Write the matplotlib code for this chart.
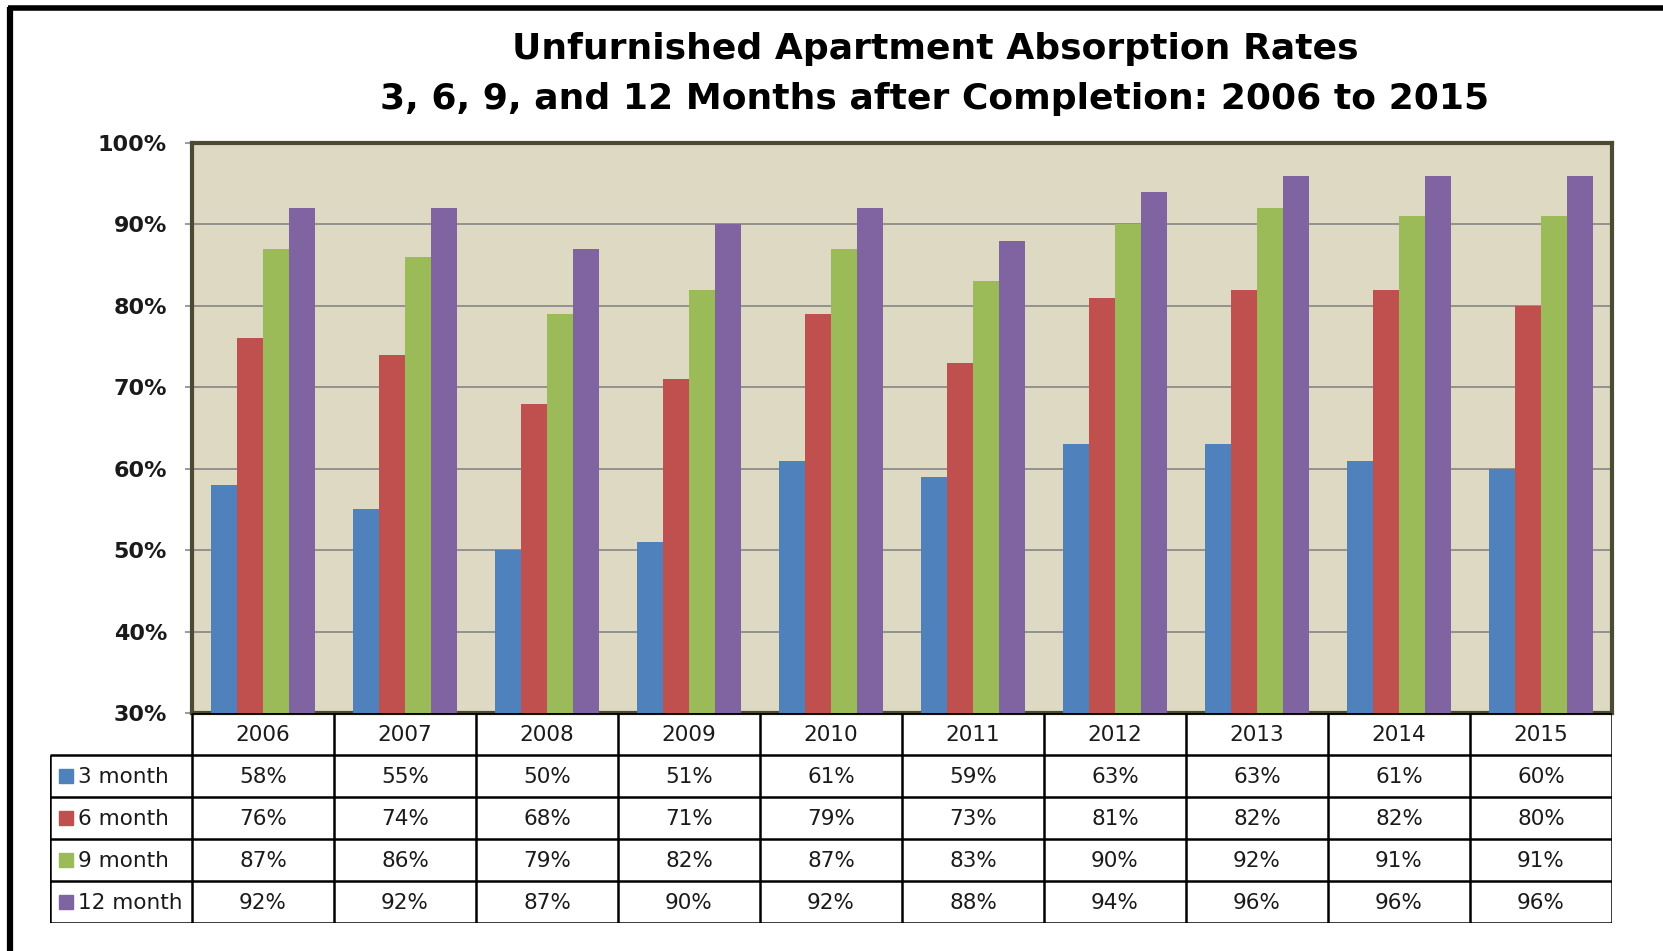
import numpy as np
import matplotlib
matplotlib.use("Agg")
import matplotlib.pyplot as plt
from matplotlib.lines import Line2D

# datos
anios = ['2006', '2007', '2008', '2009', '2010', '2011', '2012', '2013', '2014', '2015']
series = ['3 month', '6 month', '9 month', '12 month']
mes_3 = [58, 55, 50, 51, 61, 59, 63, 63, 61, 60]
mes_6 = [76, 74, 68, 71, 79, 73, 81, 82, 82, 80]
mes_9 = [87, 86, 79, 82, 87, 83, 90, 92, 91, 91]
mes_12 = [92, 92, 87, 90, 92, 88, 94, 96, 96, 96]
colores = ['#4F81BD', '#C0504D', '#9BBB59', '#8064A2']
valores = [mes_3, mes_6, mes_9, mes_12]

W, H = 1663, 951
fig = plt.figure(figsize=(W / 100, H / 100), dpi=100)
fig.patch.set_facecolor('white')

# borde negro arriba e izquierda
fig.add_artist(Line2D([10 / W, 10 / W], [0, 1 - 7 / H], color='black', lw=4.5,
                      transform=fig.transFigure, solid_capstyle='butt'))
fig.add_artist(Line2D([8 / W, 1], [1 - 7.5 / H, 1 - 7.5 / H], color='black', lw=4,
                      transform=fig.transFigure, solid_capstyle='butt'))

# titulo
fig.text(935 / W, 1 - 49 / H, 'Unfurnished Apartment Absorption Rates',
         ha='center', va='center', fontsize=26, fontweight='bold', family='DejaVu Sans')
fig.text(935 / W, 1 - 99 / H, '3, 6, 9, and 12 Months after Completion: 2006 to 2015',
         ha='center', va='center', fontsize=26, fontweight='bold', family='DejaVu Sans')

# grafico de barras
ax = fig.add_axes([192 / W, 1 - 713 / H, (1612 - 192) / W, (713 - 143) / H])
ax.set_facecolor('#DDD9C3')
x = np.arange(len(anios))
ancho = 0.183
for i, (vals, col) in enumerate(zip(valores, colores)):
    ax.bar(x + (i - 1.5) * ancho, vals, ancho, color=col, zorder=3)

ax.set_xlim(-0.5, len(anios) - 0.5)
ax.set_ylim(30, 100)
ax.set_yticks(np.arange(30, 101, 10))
ax.set_yticklabels([f'{v}%' for v in range(30, 101, 10)], fontsize=16,
                   fontweight='bold', family='DejaVu Sans', color='#1a1a1a')
ax.tick_params(axis='y', length=5, width=1.2, color='#8a8a8a', pad=13)
ax.set_xticks([])
ax.grid(axis='y', color='#8c8c8c', lw=1.3, zorder=1)
for s in ax.spines.values():
    s.set_color('#4D4A33')
    s.set_linewidth(3)

# tabla de datos debajo
tb = fig.add_axes([50 / W, 1 - 923 / H, (1612 - 50) / W, (923 - 713) / H])
tb.set_xlim(-1, len(anios))
tb.set_ylim(len(series) + 1, 0)
tb.axis('off')

lw = 1.8
tb.hlines(0, 0, len(anios), color='black', lw=lw)
for r in range(1, len(series) + 2):
    tb.hlines(r, -1, len(anios), color='black', lw=lw)
tb.vlines(-1, 1, len(series) + 1, color='black', lw=lw)
for c in range(len(anios) + 1):
    tb.vlines(c, 0, len(series) + 1, color='black', lw=lw)

fuente = dict(fontsize=15.5, family='DejaVu Sans', color='#1a1a1a')
for j, a in enumerate(anios):
    tb.text(j + 0.5, 0.53, a, ha='center', va='center', **fuente)
for i, (nombre, vals, col) in enumerate(zip(series, valores, colores)):
    tb.plot(-0.887, i + 1.5, marker='s', ms=10, color=col, mec=col)
    tb.text(-0.80, i + 1.53, nombre, ha='left', va='center', **fuente)
    for j, v in enumerate(vals):
        tb.text(j + 0.5, i + 1.53, f'{v}%', ha='center', va='center', **fuente)

fig.savefig('out.png', dpi=100)
